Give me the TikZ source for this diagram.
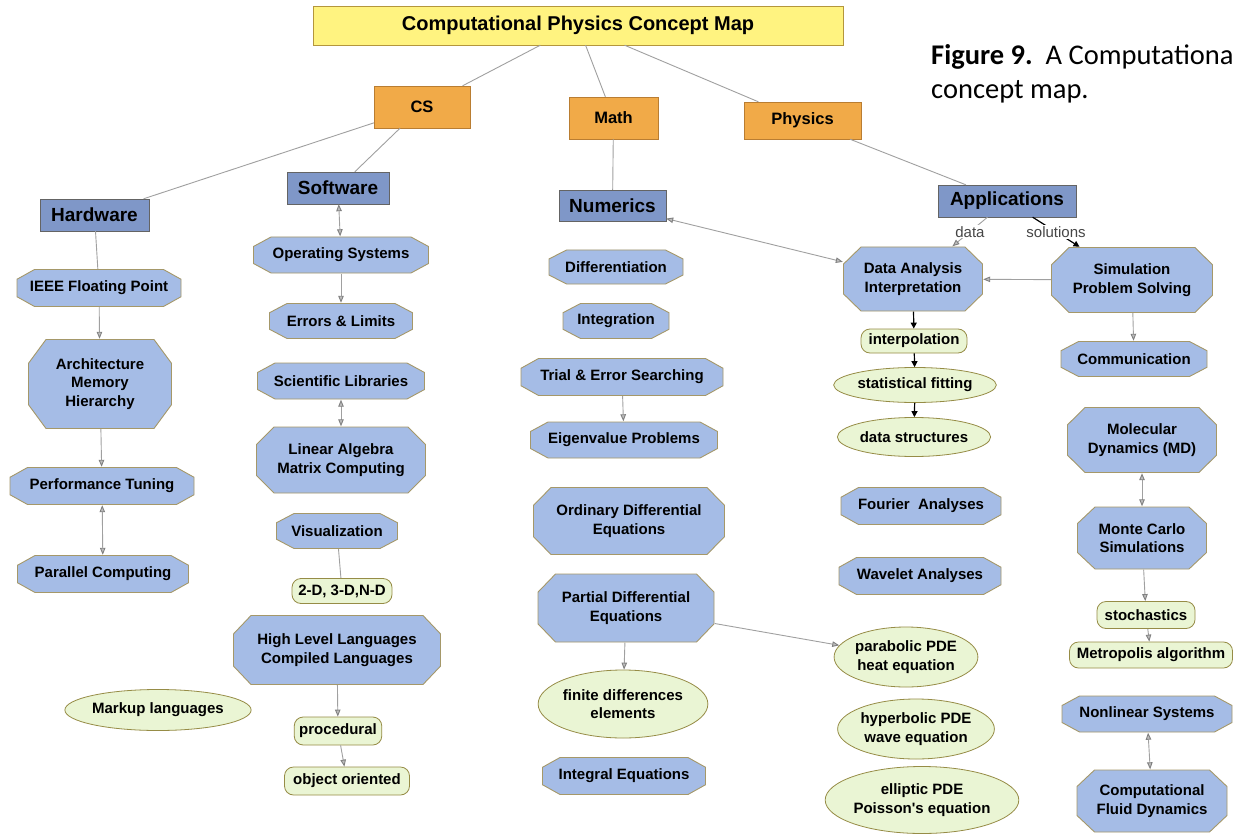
\documentclass[tikz,border=0pt]{standalone}
\usepackage{fontspec}
\setmainfont{Liberation Sans}
\newfontfamily\capfont{Carlito}
\usetikzlibrary{shapes,arrows.meta,positioning,calc}
\definecolor{titlefill}{RGB}{255,243,128}
\definecolor{titleline}{RGB}{180,150,60}
\definecolor{orfill}{RGB}{241,170,72}
\definecolor{orline}{RGB}{185,125,50}
\definecolor{brfill}{RGB}{127,151,200}
\definecolor{brline}{RGB}{100,100,100}
\definecolor{octfill}{RGB}{165,188,230}
\definecolor{octline}{RGB}{165,152,105}
\definecolor{grfill}{RGB}{234,245,212}
\definecolor{grline}{RGB}{150,140,70}
\definecolor{lgrey}{RGB}{160,160,160}
\definecolor{lbltext}{RGB}{70,70,70}
\newcommand{\titfont}{\fontsize{20}{24}\selectfont\bfseries}
\newcommand{\topfont}{\fontsize{16.5}{20}\selectfont\bfseries}
\newcommand{\catfont}{\fontsize{19}{22}\selectfont\bfseries}
\newcommand{\octfont}{\fontsize{15}{18.5}\selectfont\bfseries}
\newcommand{\lblfont}{\fontsize{15}{18}\selectfont}
\tikzstyle{titlebox}=[rectangle,draw=titleline,fill=titlefill,font=\titfont,minimum width=530pt,minimum height=39pt]
\tikzstyle{topic}=[rectangle,draw=orline,fill=orfill,font=\topfont,minimum height=42pt]
\tikzstyle{branch}=[rectangle,draw=brline,fill=brfill,font=\catfont,minimum height=32pt]
\tikzstyle{oct}=[rectangle,align=center,font=\octfont,minimum height=37pt,
  path picture={
    \coordinate (pnw) at (path picture bounding box.north west);
    \coordinate (pse) at (path picture bounding box.south east);
    \path[fill=octfill,draw=octline,line width=0.9pt]
      let \p1=(pnw), \p2=(pse) in
      (\x1+18pt,\y1-0.5pt) -- (\x2-18pt,\y1-0.5pt)
      -- (\x2-0.5pt,{\y1+0.27*(\y2-\y1)}) -- (\x2-0.5pt,{\y1+0.73*(\y2-\y1)})
      -- (\x2-18pt,\y2+0.5pt) -- (\x1+18pt,\y2+0.5pt)
      -- (\x1+0.5pt,{\y1+0.73*(\y2-\y1)}) -- (\x1+0.5pt,{\y1+0.27*(\y2-\y1)}) -- cycle;
  }]
\tikzstyle{pill}=[rectangle,rounded corners=9pt,draw=grline,line width=0.8pt,fill=grfill,font=\octfont,inner xsep=5pt,minimum height=26pt]
\tikzstyle{oval}=[ellipse,draw=grline,line width=0.8pt,fill=grfill,align=center,font=\octfont,inner sep=0pt]
\tikzstyle{capnote}=[font=\fontsize{28.5}{34}\selectfont\capfont,inner sep=0pt]
\tikzstyle{lbl}=[font=\lblfont,text=lbltext,fill=white,inner sep=1pt]
\tikzstyle{gline}=[draw=lgrey,line width=0.9pt]
\tikzstyle{garr}=[gline,-{Triangle[length=7pt,width=5.5pt,color=gray,fill=lgrey!70]}]
\tikzstyle{gdbl}=[gline,{Triangle[length=7pt,width=5.5pt,color=gray,fill=lgrey!70]}-{Triangle[length=7pt,width=5.5pt,color=gray,fill=lgrey!70]}]
\tikzstyle{barr}=[draw=black,line width=1.2pt,-{Triangle[length=6pt,width=6pt]}]
\begin{document}
\begin{tikzpicture}[x=1pt,y=-1pt]
\useasboundingbox (0,0) rectangle (1233,834);
\fill[white] (0,0) rectangle (1233,834);

% caption
\node[capnote,anchor=base west] (cap1) at (931,65) {\textbf{Figure 9.}\ \ A Computationa};
\node[capnote,anchor=base west] (cap2) at (931,99) {concept map.};

% top of the map
\node[titlebox] (title) at (578,25.5) {Computational Physics Concept Map};
\node[topic,minimum width=96pt] (cs) at (422,107) {CS};
\node[topic,minimum width=89pt] (math) at (613.5,118) {Math};
\node[topic,minimum width=117pt,minimum height=37pt] (phys) at (802.5,120.5) {Physics};
\node[branch,minimum width=109pt] (hw) at (94.5,215) {Hardware};
\node[branch,minimum width=102pt] (sw) at (338,188) {Software};
\node[branch,minimum width=107pt,minimum height=31pt] (num) at (612.5,205.5) {Numerics};
\node[branch,minimum width=138pt] (apps) at (1007,201) {Applications};

% hardware
\node[oct,minimum width=165pt,minimum height=38pt] (ieee) at (99,288) {IEEE Floating Point};
\node[oct,minimum width=144pt,minimum height=90pt] (arch) at (100,384) {Architecture\\Memory\\Hierarchy};
\node[oct,minimum width=185pt,minimum height=38pt] (perf) at (102,486) {Performance Tuning};
\node[oct,minimum width=172pt,minimum height=38pt] (par) at (103,574) {Parallel Computing};
\node[oval,minimum width=177pt,minimum height=41pt] (markup) at (158,710) {Markup languages};

% software
\node[oct,minimum width=176pt] (osys) at (341,255) {Operating Systems};
\node[oct,minimum width=144pt,minimum height=36pt] (err) at (341,321) {Errors \& Limits};
\node[oct,minimum width=168pt] (scilib) at (341,381) {Scientific Libraries};
\node[oct,minimum width=170pt,minimum height=67pt] (linalg) at (341,460) {Linear Algebra\\Matrix Computing};
\node[oct,minimum width=122pt,minimum height=36pt] (vis) at (337,531) {Visualization};
\node[pill,minimum width=100pt,minimum height=25pt] (nd) at (342,591) {2-D, 3-D,N-D};
\node[oct,minimum width=208pt,minimum height=70pt] (hll) at (337,650) {High Level Languages\\Compiled Languages};
\node[pill,minimum width=86pt,minimum height=28pt] (proc) at (338,731) {procedural};
\node[pill,minimum width=125pt,minimum height=28pt] (oo) at (347,781) {object oriented};

% numerics
\node[oct,minimum width=135pt,minimum height=35pt] (diff) at (616,267) {Differentiation};
\node[oct,minimum width=107pt,minimum height=36pt] (integ) at (616,321) {Integration};
\node[oct,minimum width=203pt,minimum height=38pt] (trial) at (622,377) {Trial \& Error Searching};
\node[oct,minimum width=188pt] (eigen) at (624,440) {Eigenvalue Problems};
\node[oct,minimum width=192pt,minimum height=68pt] (ode) at (629,521) {Ordinary Differential\\Equations};
\node[oct,minimum width=177pt,minimum height=69pt] (pde) at (626,608) {Partial Differential\\Equations};
\node[oval,minimum width=169pt,minimum height=68pt] (fde) at (623,704) {finite differences\\elements};
\node[oct,minimum width=164pt,minimum height=38pt] (inteq) at (624,776) {Integral Equations};

% applications
\node[oct,minimum width=140pt,minimum height=65pt] (dana) at (913,279) {Data Analysis\\Interpretation};
\node[oct,minimum width=162pt,minimum height=66pt] (sim) at (1132,280) {Simulation\\Problem Solving};
\node[pill,minimum width=106pt,minimum height=24pt] (interp) at (914,341) {interpolation};
\node[oval,minimum width=154pt,minimum height=35pt] (fit) at (915,385) {statistical fitting};
\node[oval,minimum width=148pt,minimum height=39pt] (dstruct) at (914,437) {data structures};
\node[oct,minimum width=161pt,minimum height=38pt] (fourier) at (921,506) {Fourier\ \ Analyses};
\node[oct,minimum width=163pt,minimum height=38pt] (wavelet) at (920,576) {Wavelet Analyses};
\node[oval,minimum width=143pt,minimum height=60pt] (para) at (906,657) {parabolic PDE\\heat equation};
\node[oval,minimum width=154pt,minimum height=60pt] (hyper) at (916,729) {hyperbolic PDE\\wave equation};
\node[oval,minimum width=183pt,minimum height=67pt] (ellip) at (922,800) {elliptic PDE\\Poisson\textquotesingle s equation};
\node[oct,minimum width=147pt,minimum height=36pt] (comm) at (1134,359) {Communication};
\node[oct,minimum width=150pt,minimum height=66pt] (md) at (1142,440) {Molecular\\Dynamics (MD)};
\node[oct,minimum width=130pt,minimum height=63pt] (mc) at (1142,538) {Monte Carlo\\Simulations};
\node[pill,minimum width=98pt,minimum height=27pt] (stoch) at (1146,615) {stochastics};
\node[pill,minimum width=163pt,minimum height=26pt] (metro) at (1151,655) {Metropolis algorithm};
\node[oct,minimum width=171pt] (nonlin) at (1147,714) {Nonlinear Systems};
\node[oct,minimum width=151pt,minimum height=63pt] (cfd) at (1152,801) {Computational\\Fluid Dynamics};

% links
\draw[gline] (title) -- (cs);
\draw[gline] (title) -- (math);
\draw[gline] (title) -- (phys);
\draw[gline] (cs) -- (hw);
\draw[gline] (cs) -- (sw);
\draw[gline] (math) -- (num);
\draw[gline] (phys) -- (apps);
\draw[gline] (hw) -- (ieee);
\draw[garr] (ieee) -- (arch);
\draw[garr] (arch) -- (perf);
\draw[gdbl] (perf) -- (par);
\draw[gdbl] (sw) -- (osys);
\draw[garr] (osys) -- (err);
\draw[gdbl] (scilib) -- (linalg);
\draw[gline] (vis) -- (nd);
\draw[garr] (hll) -- (proc);
\draw[garr] (proc) -- (oo);
\draw[garr] (trial) -- (eigen);
\draw[garr] (pde) -- (fde);
\draw[garr] (pde) -- (para);
\draw[gdbl] (num) -- (dana);
\draw[garr] (apps) -- node[lbl] {data} (dana);
\draw[barr] (apps) -- node[lbl] {solutions} (sim);
\draw[garr] (sim) -- (dana);
\draw[barr] (dana) -- (interp);
\draw[barr] (interp) -- (fit);
\draw[barr] (fit) -- (dstruct);
\draw[garr] (sim) -- (comm);
\draw[gdbl] (md) -- (mc);
\draw[garr] (mc) -- (stoch);
\draw[garr] (stoch) -- (metro);
\draw[gdbl] (nonlin) -- (cfd);
\end{tikzpicture}
\end{document}
